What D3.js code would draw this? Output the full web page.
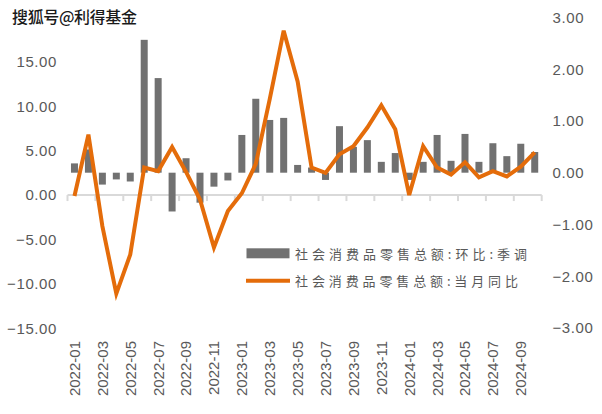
<!DOCTYPE html>
<html><head><meta charset="utf-8">
<script src="https://cdn.jsdelivr.net/npm/d3@7"></script>
<style>body{margin:0;background:#fff}svg{display:block}</style>
</head><body>
<svg id="c" width="602" height="414"></svg>
<script>
const months = ["2022-01","2022-02","2022-03","2022-04","2022-05","2022-06","2022-07","2022-08","2022-09","2022-10","2022-11","2022-12",
"2023-01","2023-02","2023-03","2023-04","2023-05","2023-06","2023-07","2023-08","2023-09","2023-10","2023-11","2023-12",
"2024-01","2024-02","2024-03","2024-04","2024-05","2024-06","2024-07","2024-08","2024-09","2024-10"];
// 环比:季调 (right axis)
const momSA = [0.18,0.45,-0.23,-0.13,-0.17,2.57,1.83,-0.75,0.28,-0.58,-0.27,-0.15,
0.73,1.43,1.02,1.06,0.15,0.10,-0.14,0.90,0.50,0.63,0.21,0.38,
-0.14,0.21,0.73,0.23,0.75,0.21,0.57,0.32,0.56,0.40];
// 当月同比 (left axis)
const yoy = [-0.1,6.8,-3.5,-11.1,-6.7,3.1,2.7,5.4,2.6,-0.5,-5.9,-1.8,
0.2,3.5,10.8,18.5,12.8,3.1,2.5,4.6,5.5,7.6,10.1,7.4,
0.0,5.5,3.1,2.3,3.7,2.0,2.7,2.1,3.2,4.8];
const leftTicks = [-15,-10,-5,0,5,10,15];
const rightTicks = [-3,-2,-1,0,1,2,3];
const xLabels = months.filter((m,i)=>i%2===0);
const seriesNames = ["社会消费品零售总额:环比:季调","社会消费品零售总额:当月同比"];
const title = "搜狐号@利得基金";

const svg = d3.select("#c");
const xc = d3.scaleBand().domain(months).range([67.5,541.7]);
const yL = d3.scaleLinear().domain([-15,20]).range([328.3,17.4]);
const yR = d3.scaleLinear().domain([-3,3]).range([327.8,17.6]);
const grey = "#595959", orange = "#E46C0A", barC = "#717171";
const numFmt = v => (v<0?"\u2212":"") + Math.abs(v).toFixed(2);

// left axis labels
svg.append("g").selectAll("text").data(leftTicks).join("text")
  .attr("x",57).attr("y",d=>yL(d)).attr("dy","0.36em").attr("text-anchor","end")
  .attr("font-family","Liberation Sans, Arial, sans-serif").attr("font-size",15).attr("letter-spacing",0.6)
  .attr("fill",grey).text(numFmt);
// right axis labels
svg.append("g").selectAll("text").data(rightTicks).join("text")
  .attr("x",552.5).attr("y",d=>yR(d)).attr("dy","0.36em").attr("text-anchor","start")
  .attr("font-family","Liberation Sans, Arial, sans-serif").attr("font-size",15).attr("letter-spacing",0.6)
  .attr("fill",grey).text(numFmt);

// x axis
const axG = svg.append("g").attr("transform",`translate(0,${yL(0)})`);
axG.append("line").attr("x1",67.5).attr("x2",541.7).attr("stroke","#d9d9d9").attr("stroke-width",2);
const tickPos = d3.range(0,months.length+1,2).map(i=>67.5+i*xc.step());
axG.selectAll("line.t").data(tickPos).join("line").attr("class","t")
  .attr("x1",d=>d).attr("x2",d=>d).attr("y1",0).attr("y2",6).attr("stroke","#d9d9d9").attr("stroke-width",2);
// x labels
svg.append("g").selectAll("text").data(xLabels).join("text")
  .attr("transform",d=>`translate(${xc(d)+xc.bandwidth()/2},341) rotate(-90)`)
  .attr("dy","0.36em").attr("text-anchor","end")
  .attr("font-family","Liberation Sans, Arial, sans-serif").attr("font-size",15)
  .attr("fill",grey).text(d=>d);

// bars
svg.append("g").selectAll("rect").data(months).join("rect")
  .attr("x",(d)=>xc(d)+xc.bandwidth()/2-3.5).attr("width",7)
  .attr("y",(d,i)=>Math.min(yR(momSA[i]),yR(0)))
  .attr("height",(d,i)=>Math.abs(yR(momSA[i])-yR(0)))
  .attr("fill",barC);

// line
const line = d3.line().x((d,i)=>xc(months[i])+xc.bandwidth()/2).y(d=>yL(d));
svg.append("path").datum(yoy).attr("d",line).attr("fill","none")
  .attr("stroke",orange).attr("stroke-width",4);

// legend
const lg = svg.append("g");
lg.append("rect").attr("x",246.5).attr("y",248.3).attr("width",43).attr("height",10).attr("fill",barC);
lg.append("line").attr("x1",246).attr("x2",290).attr("y1",280.7).attr("y2",280.7).attr("stroke",orange).attr("stroke-width",4);
lg.selectAll("text").data(seriesNames).join("text")
  .attr("x",295).attr("y",(d,i)=>i?286:258.5)
  .attr("font-family","Noto Sans CJK SC").attr("font-size",13).attr("fill",grey)
  .attr("textLength",(d,i)=>i?223:232).attr("lengthAdjust","spacing").text(d=>d);

// watermark title
svg.append("text").attr("x",12).attr("y",23).attr("font-family","Noto Sans CJK SC").attr("font-size",16)
  .attr("font-weight",500).attr("fill","#1a1a1a").attr("stroke","#fff").attr("stroke-width",2.5)
  .attr("paint-order","stroke").attr("textLength",125).attr("lengthAdjust","spacing").text(title);
</script>
</body></html>
